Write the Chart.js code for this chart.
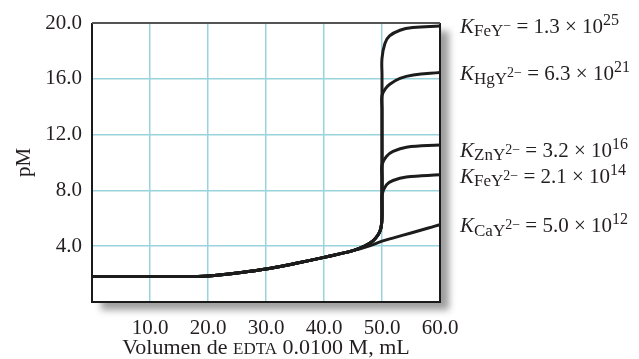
<!DOCTYPE html>
<html>
<head>
<meta charset="utf-8">
<script src="https://cdn.jsdelivr.net/npm/chart.js@4/dist/chart.umd.min.js"></script>
<style>
html,body{margin:0;padding:0;background:#fff;}
#wrap{width:639px;height:359px;}
</style>
</head>
<body>
<div id="wrap"><canvas id="c" width="639" height="359"></canvas></div>
<script>
// ---- data ----
const preX  = [0, 10, 18, 20, 25, 30, 35, 40, 45];
const preY  = [1.82, 1.82, 1.83, 1.86, 2.08, 2.36, 2.76, 3.2, 3.68];

const caX   = [48, 50, 52, 55, 58, 60];
const caY   = [4.05, 4.36, 4.6, 4.95, 5.3, 5.55];

const bendX = [47, 48.5, 49.3, 49.75, 49.95, 50];
const bendY = [4.0, 4.4, 4.8, 5.2, 5.7, 6.3];

const fe3X = [50, 50, 50.5, 51.3, 53.1, 55.3, 60];
const fe3Y = [16.3, 17.46, 18.53, 19.07, 19.48, 19.67, 19.79];
const hgX  = [50, 50, 50.6, 51.4, 53.1, 55.4, 60];
const hgY  = [13.8, 14.8, 15.3, 15.63, 16.03, 16.27, 16.45];
const znX  = [50, 50, 50.76, 51.9, 54.2, 60];
const znY  = [8.9, 9.84, 10.43, 10.79, 11.1, 11.26];
const fe2X = [50, 50, 50.76, 51.9, 54.2, 60];
const fe2Y = [6.95, 7.69, 8.4, 8.71, 8.96, 9.12];

const yTicks = [4, 8, 12, 16, 20];
const xTicks = [10, 20, 30, 40, 50, 60];

const labels = [
  {sub: 'FeY', sup2: '−', val: '1.3', exp: '25'},
  {sub: 'HgY', sup2: '2−', val: '6.3', exp: '21'},
  {sub: 'ZnY', sup2: '2−', val: '3.2', exp: '16'},
  {sub: 'FeY', sup2: '2−', val: '2.1', exp: '14'},
  {sub: 'CaY', sup2: '2−', val: '5.0', exp: '12'}
];
const labelPM = [19.3, 15.9, 10.4, 8.55, 5.0];

// ---- build point lists ----
function pts(xs, ys){ return xs.map((x,i)=>({x:x, y:ys[i]})); }
const prePts = pts(preX, preY);
const bendPts = pts(bendX, bendY);
const caPts = prePts.concat(pts(caX, caY));
function steep(bx, by){ return prePts.concat(bendPts, pts(bx, by)); }

const LINE = '#1c1c1c';
function ds(data){
  return {data:data, borderColor:LINE, borderWidth:3, pointRadius:0, tension:0.4, fill:false, borderCapStyle:'round', borderJoinStyle:'round'};
}

const SERIF = '"Liberation Serif", "DejaVu Serif", serif';
const GRID = '#99d3dd';

const decor = {
  id:'decor',
  beforeDraw(chart){
    const {ctx, chartArea:a} = chart;
    ctx.save();
    ctx.shadowColor = 'rgba(0,0,0,0.38)';
    ctx.shadowBlur = 7;
    ctx.shadowOffsetX = 9;
    ctx.shadowOffsetY = 8;
    ctx.fillStyle = '#fff';
    ctx.fillRect(a.left, a.top, a.right - a.left, a.bottom - a.top);
    ctx.restore();
  },
  afterDraw(chart){
    const {ctx, chartArea:a} = chart;
    ctx.save();
    // frame
    ctx.strokeStyle = '#1a1a1a';
    ctx.lineWidth = 2;
    ctx.beginPath();
    ctx.moveTo(a.left, a.top); ctx.lineTo(a.left, a.bottom); ctx.lineTo(a.right, a.bottom); ctx.lineTo(a.right, a.top);
    ctx.stroke();
    ctx.strokeStyle = '#555';
    ctx.beginPath(); ctx.moveTo(a.left, a.top); ctx.lineTo(a.right, a.top); ctx.stroke();

    ctx.fillStyle = '#231f20';
    // y title
    ctx.save();
    ctx.translate(24, (a.top + a.bottom)/2);
    ctx.rotate(-Math.PI/2);
    ctx.font = '21px ' + SERIF;
    ctx.textAlign = 'center';
    ctx.textBaseline = 'middle';
    ctx.fillText('pM', 0, 0);
    ctx.restore();

    // x title with small caps
    const parts = [['Volumen de ', 22], ['EDTA', 17], [' 0.0100 M, mL', 22]];
    let w = 0;
    parts.forEach(p => { ctx.font = p[1] + 'px ' + SERIF; w += ctx.measureText(p[0]).width; });
    let x = (a.left + a.right)/2 - w/2;
    ctx.textAlign = 'left';
    ctx.textBaseline = 'alphabetic';
    parts.forEach(p => { ctx.font = p[1] + 'px ' + SERIF; ctx.fillText(p[0], x, 354); x += ctx.measureText(p[0]).width; });

    // right labels
    const ys = chart.scales.y;
    labels.forEach((L, i) => {
      const base = ys.getPixelForValue(labelPM[i]);
      let cx = 460;
      ctx.font = 'italic 21px ' + SERIF;
      ctx.fillText('K', cx, base); cx += 14;
      ctx.font = '17px ' + SERIF;
      ctx.fillText(L.sub, cx, base + 3.5); cx += ctx.measureText(L.sub).width;
      ctx.font = '14px ' + SERIF;
      ctx.fillText(L.sup2, cx, base - 3); cx += ctx.measureText(L.sup2).width;
      ctx.font = '21px ' + SERIF;
      const mid = ' = ' + L.val + ' × 10';
      ctx.fillText(mid, cx, base); cx += ctx.measureText(mid).width;
      ctx.font = '16px ' + SERIF;
      ctx.fillText(L.exp, cx, base - 8);
    });
    ctx.restore();
  }
};

new Chart(document.getElementById('c'), {
  type:'line',
  data:{
    datasets:[
      ds(caPts),
      ds(steep(fe2X, fe2Y)),
      ds(steep(znX, znY)),
      ds(steep(hgX, hgY)),
      ds(steep(fe3X, fe3Y))
    ]
  },
  options:{
    responsive:false,
    animation:false,
    devicePixelRatio:1,
    layout:{padding:{left:0, top:23, right:199, bottom:0}},
    plugins:{legend:{display:false}, tooltip:{enabled:false}},
    scales:{
      x:{
        type:'linear', min:0, max:60,
        afterFit(s){ s.height = 57; },
        afterBuildTicks(s){ s.ticks = [0].concat(xTicks).map(v=>({value:v})); },
        border:{display:false},
        grid:{color:(c)=> (c.tick && (c.tick.value===0 || c.tick.value===60)) ? 'rgba(0,0,0,0)' : GRID, lineWidth:1.5, drawTicks:false},
        ticks:{padding:14, color:'#231f20', maxRotation:0, autoSkip:false, font:{family:SERIF, size:21},
          callback:(v)=> v===0 ? '' : v.toFixed(1)}
      },
      y:{
        type:'linear', min:0, max:20,
        afterFit(s){ s.width = 92; },
        afterBuildTicks(s){ s.ticks = [0].concat(yTicks).map(v=>({value:v})); },
        border:{display:false},
        grid:{color:(c)=> (c.tick && (c.tick.value===0 || c.tick.value===20)) ? 'rgba(0,0,0,0)' : GRID, lineWidth:1.5, drawTicks:false},
        ticks:{padding:10, color:'#231f20', autoSkip:false, font:{family:SERIF, size:21},
          callback:(v)=> v===0 ? '' : v.toFixed(1)}
      }
    }
  },
  plugins:[decor]
});
</script>
</body>
</html>
